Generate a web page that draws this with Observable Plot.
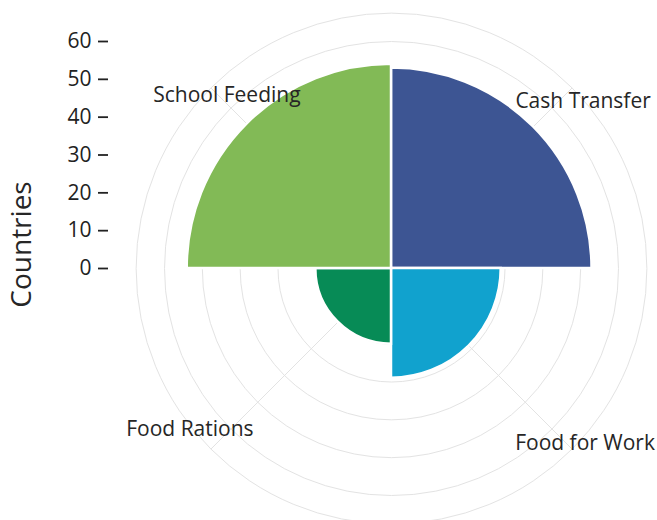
<!DOCTYPE html>
<html><head><meta charset="utf-8">
<script src="https://cdn.jsdelivr.net/npm/d3@7"></script>
<script src="https://cdn.jsdelivr.net/npm/@observablehq/plot@0.6"></script>
<style>body{margin:0;background:#fff}</style>
</head><body><div id="chart"></div>
<script>
// ---- data ----
const categories = ["Cash Transfer", "Food for Work", "Food Rations", "School Feeding"];
const countries = [53, 29, 20, 54];
const colors = ["#3D5593", "#11A2CE", "#078B56", "#82BA56"];
const radialTicks = [0, 10, 20, 30, 40, 50, 60];
const gridRings = [10, 20, 30, 40, 50, 60];
const outerLimit = 67.5;

// ---- layout ----
const W = 657, H = 520;
const cx = 391, cy = 268, left = 108;
const k = 227 / 60; // px per unit
const labelNudge = {"Cash Transfer": [11, 13], "Food for Work": [13, -6], "Food Rations": [-21, -20], "School Feeding": [16, 7]};

const data = categories.map((c, i) => ({category: c, value: countries[i], index: i, color: colors[i]}));
const angle = i => (i + 0.5) * Math.PI / 2;
const spokes = data.map(d => ({x2: outerLimit * Math.sin(angle(d.index)), y2: outerLimit * Math.cos(angle(d.index))}));
const labels = data.map(d => ({
  category: d.category,
  x: outerLimit * Math.sin(angle(d.index)) + labelNudge[d.category][0] / k,
  y: outerLimit * Math.cos(angle(d.index)) - labelNudge[d.category][1] / k
}));

function sectors(index, scales) {
  const x0 = scales.x(0), y0 = scales.y(0);
  const g = d3.create("svg:g").attr("transform", `translate(${x0},${y0})`);
  const arc = d3.arc().innerRadius(0);
  g.selectAll("path").data(data).join("path")
    .attr("d", d => arc({outerRadius: scales.x(d.value) - x0, startAngle: d.index * Math.PI / 2, endAngle: (d.index + 1) * Math.PI / 2}))
    .attr("fill", d => d.color)
    .attr("stroke", "white")
    .attr("stroke-width", 2.5);
  return g.node();
}

const chart = Plot.plot({
  width: W, height: H,
  marginLeft: left, marginRight: 0, marginTop: 0, marginBottom: 0,
  style: {fontFamily: "'Open Sans', sans-serif", fontSize: "21px", color: "#222", background: "white"},
  x: {domain: [(left - cx) / k, (W - cx) / k], axis: null},
  y: {domain: [(cy - H) / k, cy / k]},
  r: {type: "linear", domain: [0, 60], range: [0, 60 * k]},
  marks: [
    Plot.dot([...gridRings, outerLimit], {x: 0, y: 0, r: d => d, stroke: "#e3e3e3", strokeWidth: 1, fill: "none"}),
    Plot.link(spokes, {x1: 0, y1: 0, x2: "x2", y2: "y2", stroke: "#e3e3e3", strokeWidth: 1}),
    sectors,
    Plot.axisY({ticks: radialTicks, tickFormat: d => d, tickSize: 10, tickPadding: 7, strokeWidth: 1.8, fontSize: 21, label: null, anchor: "left"}),
    Plot.text(labels, {x: "x", y: "y", text: "category", fontSize: 21, fill: "#262626"}),
    Plot.text(["Countries"], {frameAnchor: "left", textAnchor: "middle", dx: -86, dy: -16, rotate: -90, fontSize: 28, fill: "#262626"})
  ]
});
document.getElementById("chart").appendChild(chart);
</script>
</body></html>
